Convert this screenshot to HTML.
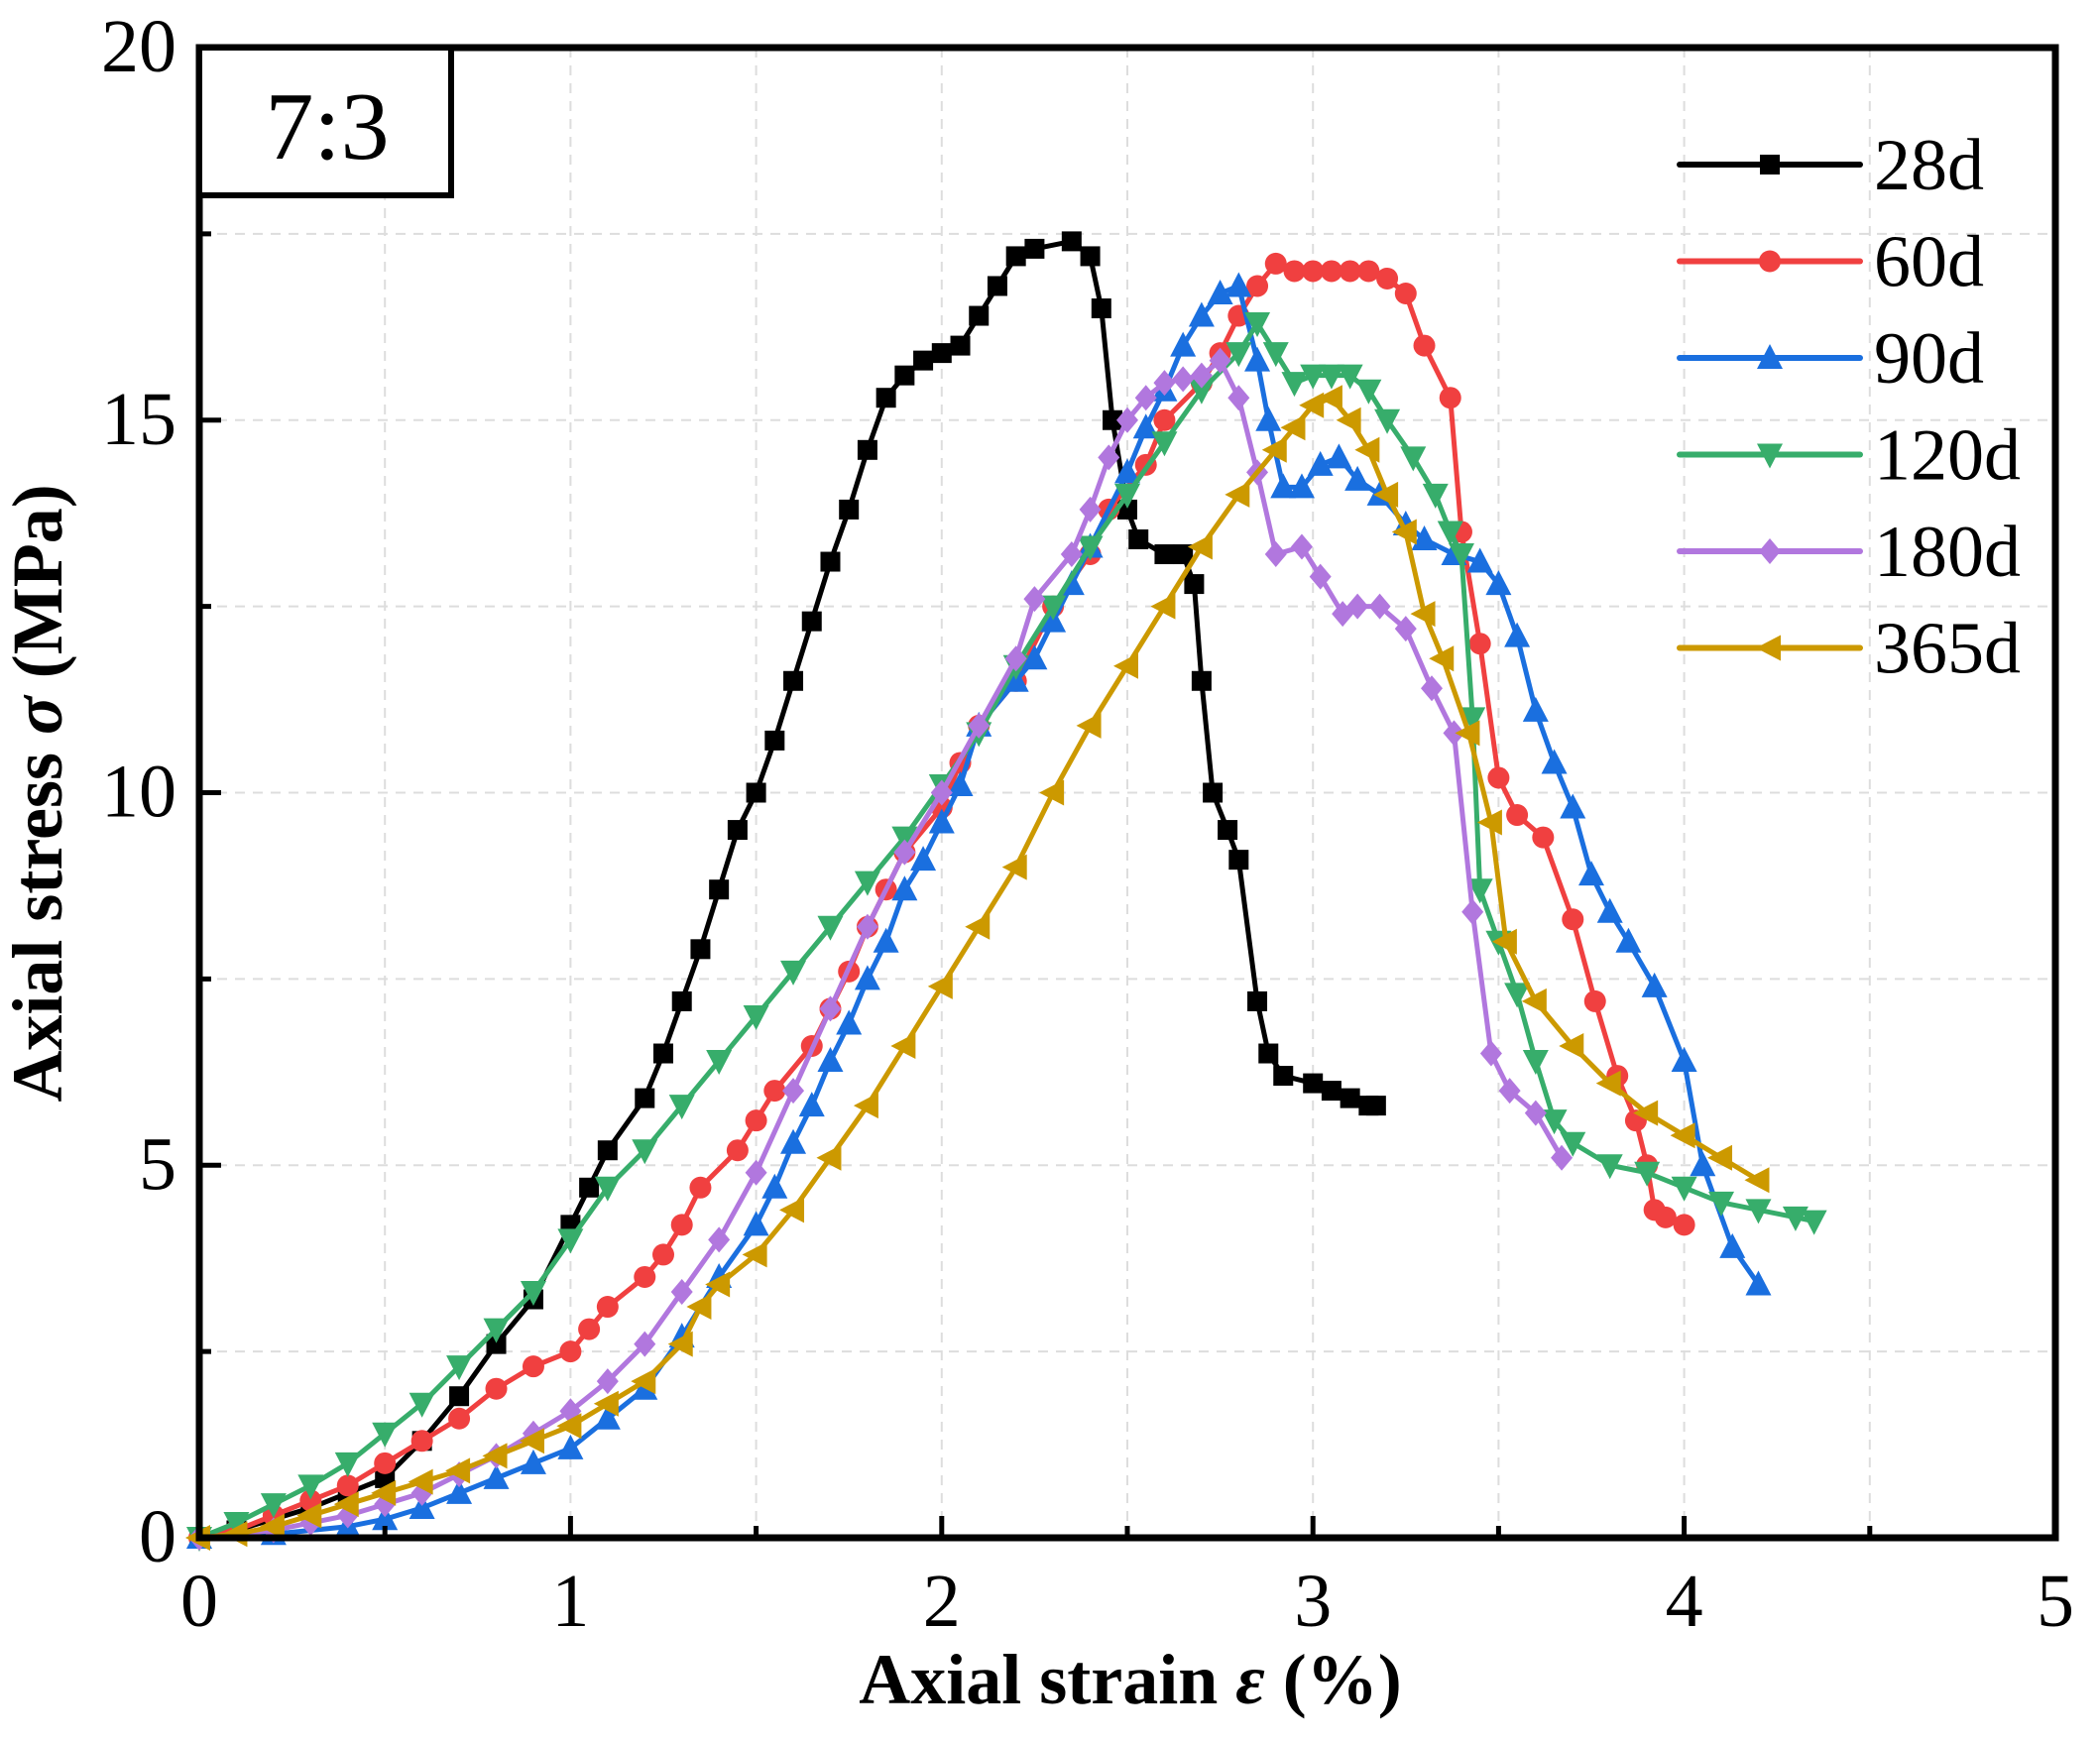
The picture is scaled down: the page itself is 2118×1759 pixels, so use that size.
<!DOCTYPE html>
<html><head><meta charset="utf-8"><style>
html,body{margin:0;padding:0;background:#fff;}
svg{display:block;font-family:"Liberation Serif",serif;}
</style></head><body>
<svg id="chart" width="2118" height="1759" viewBox="0 0 2118 1759" xmlns="http://www.w3.org/2000/svg">
<g id="grid"></g>
<g id="series"></g>
<rect x="201" y="48" width="1872" height="1503" fill="none" stroke="#000" stroke-width="7"/>
<g id="ticks"></g>
<rect x="201" y="48" width="254" height="149" fill="#fff" stroke="#000" stroke-width="6"/>
<text x="330" y="160" font-size="98" text-anchor="middle">7:3</text>
<text x="1140" y="1718" font-size="72" font-weight="bold" text-anchor="middle">Axial strain <tspan font-style="italic">ε</tspan> (%)</text>
<text transform="translate(62,800) rotate(-90)" font-size="72" font-weight="bold" text-anchor="middle">Axial stress <tspan font-style="italic">σ</tspan> (MPa)</text>
<g id="legend"></g>
</svg>
<script>
const xTicks=[0,1,2,3,4,5];
const yTicks=[0,5,10,15,20];
const seriesNames=["28d","60d","90d","120d","180d","365d"];
const seriesColors=["#000000","#f04040","#1a6fdf","#37ad6b","#b177de","#cc9900"];
const seriesMarkers=["square","circle","up","down","diamond","left"];
const x28=[0,0.1,0.2,0.3,0.4,0.5,0.6,0.7,0.8,0.9,1.0,1.05,1.1,1.2,1.25,1.3,1.35,1.4,1.45,1.5,1.55,1.6,1.65,1.7,1.75,1.8,1.85,1.9,1.95,2.0,2.05,2.1,2.15,2.2,2.25,2.35,2.4,2.43,2.46,2.5,2.53,2.6,2.65,2.68,2.7,2.73,2.77,2.8,2.85,2.88,2.92,3.0,3.05,3.1,3.15,3.17];
const y28=[0,0.1,0.25,0.4,0.6,0.8,1.3,1.9,2.6,3.2,4.2,4.7,5.2,5.9,6.5,7.2,7.9,8.7,9.5,10.0,10.7,11.5,12.3,13.1,13.8,14.6,15.3,15.6,15.8,15.9,16.0,16.4,16.8,17.2,17.3,17.4,17.2,16.5,15.0,13.8,13.4,13.2,13.2,12.8,11.5,10.0,9.5,9.1,7.2,6.5,6.2,6.1,6.0,5.9,5.8,5.8];
const x60=[0,0.1,0.2,0.3,0.4,0.5,0.6,0.7,0.8,0.9,1.0,1.05,1.1,1.2,1.25,1.3,1.35,1.45,1.5,1.55,1.65,1.7,1.75,1.8,1.85,1.9,2.0,2.05,2.1,2.2,2.3,2.4,2.45,2.55,2.6,2.7,2.75,2.8,2.85,2.9,2.95,3.0,3.05,3.1,3.15,3.2,3.25,3.3,3.37,3.4,3.45,3.5,3.55,3.62,3.7,3.76,3.82,3.87,3.9,3.92,3.95,4.0];
const y60=[0,0.1,0.3,0.5,0.7,1.0,1.3,1.6,2.0,2.3,2.5,2.8,3.1,3.5,3.8,4.2,4.7,5.2,5.6,6.0,6.6,7.1,7.6,8.2,8.7,9.2,9.8,10.4,10.9,11.5,12.5,13.2,13.8,14.4,15.0,15.5,15.9,16.4,16.8,17.1,17.0,17.0,17.0,17.0,17.0,16.9,16.7,16.0,15.3,13.5,12.0,10.2,9.7,9.4,8.3,7.2,6.2,5.6,5.0,4.4,4.3,4.2];
const x90=[0,0.2,0.4,0.5,0.6,0.7,0.8,0.9,1.0,1.1,1.2,1.3,1.4,1.5,1.55,1.6,1.65,1.7,1.75,1.8,1.85,1.9,1.95,2.0,2.05,2.1,2.2,2.25,2.3,2.35,2.4,2.5,2.55,2.6,2.65,2.7,2.75,2.8,2.85,2.88,2.92,2.97,3.02,3.07,3.12,3.18,3.25,3.3,3.38,3.45,3.5,3.55,3.6,3.65,3.7,3.75,3.8,3.85,3.92,4.0,4.05,4.13,4.2];
const y90=[0,0.05,0.15,0.25,0.4,0.6,0.8,1.0,1.2,1.6,2.0,2.7,3.5,4.2,4.7,5.3,5.8,6.4,6.9,7.5,8.0,8.7,9.1,9.6,10.1,10.9,11.5,11.8,12.3,12.8,13.3,14.3,14.9,15.4,16.0,16.4,16.7,16.8,15.8,15.0,14.1,14.1,14.4,14.5,14.2,14.0,13.6,13.4,13.2,13.1,12.8,12.1,11.1,10.4,9.8,8.9,8.4,8.0,7.4,6.4,5.0,3.9,3.4];
const x120=[0,0.1,0.2,0.3,0.4,0.5,0.6,0.7,0.8,0.9,1.0,1.1,1.2,1.3,1.4,1.5,1.6,1.7,1.8,1.9,2.0,2.1,2.2,2.3,2.4,2.5,2.6,2.7,2.8,2.85,2.9,2.95,3.0,3.05,3.1,3.15,3.2,3.27,3.33,3.37,3.4,3.43,3.45,3.5,3.55,3.6,3.65,3.7,3.8,3.9,4.0,4.1,4.2,4.3,4.35];
const y120=[0,0.2,0.45,0.7,1.0,1.4,1.8,2.3,2.8,3.3,4.0,4.7,5.2,5.8,6.4,7.0,7.6,8.2,8.8,9.4,10.1,10.8,11.7,12.5,13.3,14.0,14.7,15.4,15.9,16.3,15.9,15.5,15.6,15.6,15.6,15.4,15.0,14.5,14.0,13.5,13.2,11.0,8.7,8.0,7.3,6.4,5.6,5.3,5.0,4.9,4.7,4.5,4.4,4.3,4.25];
const x180=[0,0.2,0.3,0.4,0.5,0.6,0.7,0.8,0.9,1.0,1.1,1.2,1.3,1.4,1.5,1.6,1.7,1.8,1.9,2.0,2.1,2.2,2.25,2.35,2.4,2.45,2.5,2.55,2.6,2.65,2.7,2.75,2.8,2.85,2.9,2.97,3.02,3.08,3.12,3.18,3.25,3.32,3.38,3.43,3.48,3.53,3.6,3.67];
const y180=[0,0.1,0.2,0.3,0.45,0.6,0.85,1.1,1.4,1.7,2.1,2.6,3.3,4.0,4.9,6.0,7.1,8.2,9.2,10.0,10.9,11.8,12.6,13.2,13.8,14.5,15.0,15.3,15.5,15.55,15.6,15.8,15.3,14.3,13.2,13.3,12.9,12.4,12.5,12.5,12.2,11.4,10.8,8.4,6.5,6.0,5.7,5.1];
const x365=[0,0.1,0.2,0.3,0.4,0.5,0.6,0.7,0.8,0.9,1.0,1.1,1.2,1.3,1.35,1.4,1.5,1.6,1.7,1.8,1.9,2.0,2.1,2.2,2.3,2.4,2.5,2.6,2.7,2.8,2.9,2.95,3.0,3.05,3.1,3.15,3.2,3.25,3.3,3.35,3.42,3.48,3.52,3.6,3.7,3.8,3.9,4.0,4.1,4.2];
const y365=[0,0.05,0.15,0.3,0.45,0.6,0.75,0.9,1.1,1.3,1.5,1.8,2.1,2.6,3.1,3.4,3.8,4.4,5.1,5.8,6.6,7.4,8.2,9.0,10.0,10.9,11.7,12.5,13.3,14.0,14.6,14.9,15.2,15.3,15.0,14.6,14.0,13.5,12.4,11.8,10.8,9.6,8.0,7.2,6.6,6.1,5.7,5.4,5.1,4.8];
const seriesX=[x28,x60,x90,x120,x180,x365];
const seriesY=[y28,y60,y90,y120,y180,y365];

const NS="http://www.w3.org/2000/svg";
const X0=201,X1=2073,Y0=1551,Y1=48;
function sx(v){return X0+(v-0)/(5-0)*(X1-X0);}
function sy(v){return Y0-(v-0)/(20-0)*(Y0-Y1);}
function mk(tag,attrs,parent){const e=document.createElementNS(NS,tag);for(const k in attrs)e.setAttribute(k,attrs[k]);parent.appendChild(e);return e;}
const grid=document.getElementById('grid'),ticks=document.getElementById('ticks'),ser=document.getElementById('series'),leg=document.getElementById('legend');

for(let v=0.5;v<5;v+=0.5){
  const l=mk('line',{x1:sx(v),x2:sx(v),y1:Y1,y2:Y0,stroke:'#dddddd','stroke-width':2,'stroke-dasharray':'10,8'},grid);
  
  
  const t=mk('line',{x1:sx(v),x2:sx(v),y1:Y0,y2:Y0-(Number.isInteger(v)?22:12),stroke:'#000','stroke-width':5},ticks);
  
  
}
for(let v=2.5;v<20;v+=2.5){
  const l=mk('line',{x1:X0,x2:X1,y1:sy(v),y2:sy(v),stroke:'#dddddd','stroke-width':2,'stroke-dasharray':'10,8'},grid);
  
  
  const t=mk('line',{x1:X0,x2:X0+(v%5===0?22:12),y1:sy(v),y2:sy(v),stroke:'#000','stroke-width':5},ticks);
  
  
}
xTicks.forEach(v=>{
  const t=mk('text',{x:sx(v),y:1640,'font-size':76,'text-anchor':'middle'},ticks);
  t.textContent=v;
  
  
});
yTicks.forEach(v=>{
  const t=mk('text',{x:178,y:sy(v)+24,'font-size':76,'text-anchor':'end'},ticks);
  t.textContent=v;
  
  
});

function marker(type,cx,cy,color,parent){
  const s=11;let e;
  if(type==='square')e=mk('rect',{x:cx-s+1,y:cy-s+1,width:2*s-2,height:2*s-2,fill:color},parent);
  else if(type==='circle')e=mk('circle',{cx:cx,cy:cy,r:s,fill:color},parent);
  else{
    let p;
    if(type==='up')p=[[cx,cy-s-3],[cx+s+2,cy+s],[cx-s-2,cy+s]];
    else if(type==='down')p=[[cx,cy+s+3],[cx+s+2,cy-s],[cx-s-2,cy-s]];
    else if(type==='left')p=[[cx-s-3,cy],[cx+s,cy-s-2],[cx+s,cy+s+2]];
    else p=[[cx,cy-s-2],[cx+s,cy],[cx,cy+s+2],[cx-s,cy]];
    e=mk('polygon',{points:p.map(q=>q.join(',')).join(' '),fill:color},parent);
  }
  return e;
}

seriesNames.forEach((name,i)=>{
  const g=mk('g',{},ser);
  
  
  const xs=seriesX[i],ys=seriesY[i];
  const pts=xs.map((x,j)=>sx(x)+','+sy(ys[j])).join(' ');
  const pl=mk('polyline',{points:pts,fill:'none',stroke:seriesColors[i],'stroke-width':5,'stroke-linejoin':'round'},g);
  
  
  xs.forEach((x,j)=>{
    const m=marker(seriesMarkers[i],sx(x),sy(ys[j]),seriesColors[i],g);
    
    
  });
  const ly=166+i*97.5;
  const lg=mk('g',{},leg);
  
  
  mk('line',{x1:1694,x2:1876,y1:ly,y2:ly,stroke:seriesColors[i],'stroke-width':6,'stroke-linecap':'round'},lg);
  marker(seriesMarkers[i],1785,ly,seriesColors[i],lg);
  const t=mk('text',{x:1890,y:ly+25,'font-size':74},lg);
  t.textContent=name;
});
</script>
</body></html>
